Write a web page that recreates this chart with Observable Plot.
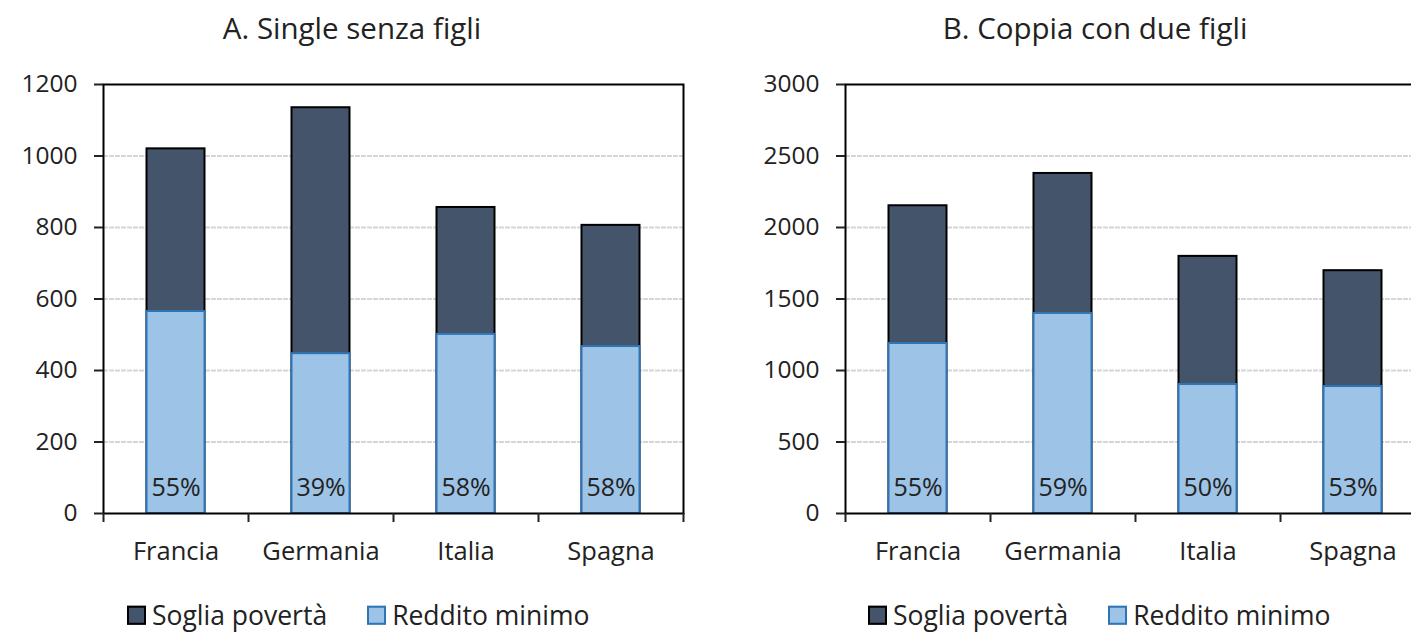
<!DOCTYPE html>
<html>
<head>
<meta charset="utf-8">
<script src="https://cdn.jsdelivr.net/npm/d3@7"></script>
<script src="https://cdn.jsdelivr.net/npm/@observablehq/plot@0.6"></script>
<style>
  html, body { margin: 0; padding: 0; background: #fff; overflow: hidden; }
  #wrap { position: relative; width: 1411px; height: 632px; overflow: hidden; font-family: "Open Sans", sans-serif; color: #222; }
  .panel { position: absolute; top: 0; }
  .panel svg { max-width: none !important; }
  .title { position: absolute; top: 28px; font-size: 29.5px; line-height: 1; white-space: nowrap; transform: translate(-50%, -50%); }
  .legend { position: absolute; top: 615px; font-size: 26.5px; line-height: 1; white-space: nowrap; display: flex; align-items: center; transform: translateY(-50%); }
  .sw { display: inline-block; width: 19px; height: 19px; margin-right: 6px; box-sizing: border-box; }
  .item { display: flex; align-items: center; margin-right: 40px; }
</style>
</head>
<body>
<div id="wrap">
  <div class="title" style="left:352px">A. Single senza figli</div>
  <div class="title" style="left:1095px">B. Coppia con due figli</div>
  <div id="pA" class="panel" style="left:0px; width:700px"></div>
  <div id="pB" class="panel" style="left:700px; width:740px"></div>
  <div id="legA" class="legend" style="left:127px"></div>
  <div id="legB" class="legend" style="left:868px"></div>
</div>
<script>
const categories = ["Francia", "Germania", "Italia", "Spagna"];
const seriesNames = ["Soglia povertà", "Reddito minimo"];
const sogliaA = [1020, 1135, 856, 806];
const redditoA = [565, 447, 501, 467];
const pctA = ["55%", "39%", "58%", "58%"];
const sogliaB = [2152, 2378, 1798, 1698];
const redditoB = [1189, 1399, 902, 888];
const pctB = ["55%", "59%", "50%", "53%"];
const ticksA = [0, 200, 400, 600, 800, 1000, 1200];
const ticksB = [0, 500, 1000, 1500, 2000, 2500, 3000];

const darkFill = "#44546A", darkStroke = "#000000";
const lightFill = "#9DC3E6", lightStroke = "#2E75B6";

function panel({soglia, reddito, pct, ticks, width, marginLeft, marginRight}) {
  const data = categories.map((c, i) => ({c, i, soglia: soglia[i], reddito: reddito[i], pct: pct[i]}));
  return Plot.plot({
    width, height: 580,
    marginTop: 84, marginBottom: 67, marginLeft, marginRight,
    x: {domain: [0, categories.length], axis: null},
    y: {domain: [ticks[0], ticks[ticks.length - 1]], axis: null},
    style: {fontFamily: "Open Sans", fontSize: "24px", color: "#222", background: "transparent", overflow: "visible", maxWidth: "none"},
    marks: [
      Plot.gridY(ticks.slice(1, -1), {stroke: "#d6d6d6", strokeOpacity: 1, strokeWidth: 1.8, strokeDasharray: "5,1"}),
      Plot.rectY(data, {x1: d => d.i + 0.3, x2: d => d.i + 0.7, y1: 0, y2: "soglia", fill: darkFill, stroke: darkStroke, strokeWidth: 2}),
      Plot.rectY(data, {x1: d => d.i + 0.3, x2: d => d.i + 0.7, y1: 0, y2: "reddito", fill: lightFill, stroke: lightStroke, strokeWidth: 2}),
      Plot.text(data, {x: d => d.i + 0.5, y: 0, text: "pct", dy: -26, fontSize: 25, fill: "#222"}),
      Plot.frame({stroke: "#000", strokeWidth: 2}),
      Plot.axisY({ticks, tickSize: 9, tickPadding: 17, tickFormat: d => String(d), strokeWidth: 2, fontSize: 24.5, fill: "#222"}),
      Plot.axisX({ticks: d3.range(categories.length + 1), tickSize: 9, tickFormat: () => "", strokeWidth: 2}),
      Plot.axisX({ticks: categories.map((c, i) => i + 0.5), tickSize: 0, tickPadding: 28, tickFormat: d => categories[Math.floor(d)], fontSize: 25.5, fill: "#222"})
    ]
  });
}

document.getElementById("pA").append(panel({soglia: sogliaA, reddito: redditoA, pct: pctA, ticks: ticksA, width: 700, marginLeft: 103, marginRight: 17}));
document.getElementById("pB").append(panel({soglia: sogliaB, reddito: redditoB, pct: pctB, ticks: ticksB, width: 740, marginLeft: 145, marginRight: 15}));

function legend(id) {
  const el = document.getElementById(id);
  const styles = [[darkFill, darkStroke], [lightFill, lightStroke]];
  seriesNames.forEach((n, k) => {
    const it = document.createElement("span");
    it.className = "item";
    const sw = document.createElement("span");
    sw.className = "sw";
    sw.style.background = styles[k][0];
    sw.style.border = "2px solid " + styles[k][1];
    it.append(sw, document.createTextNode(n));
    el.append(it);
  });
}
legend("legA");
legend("legB");
</script>
</body>
</html>
